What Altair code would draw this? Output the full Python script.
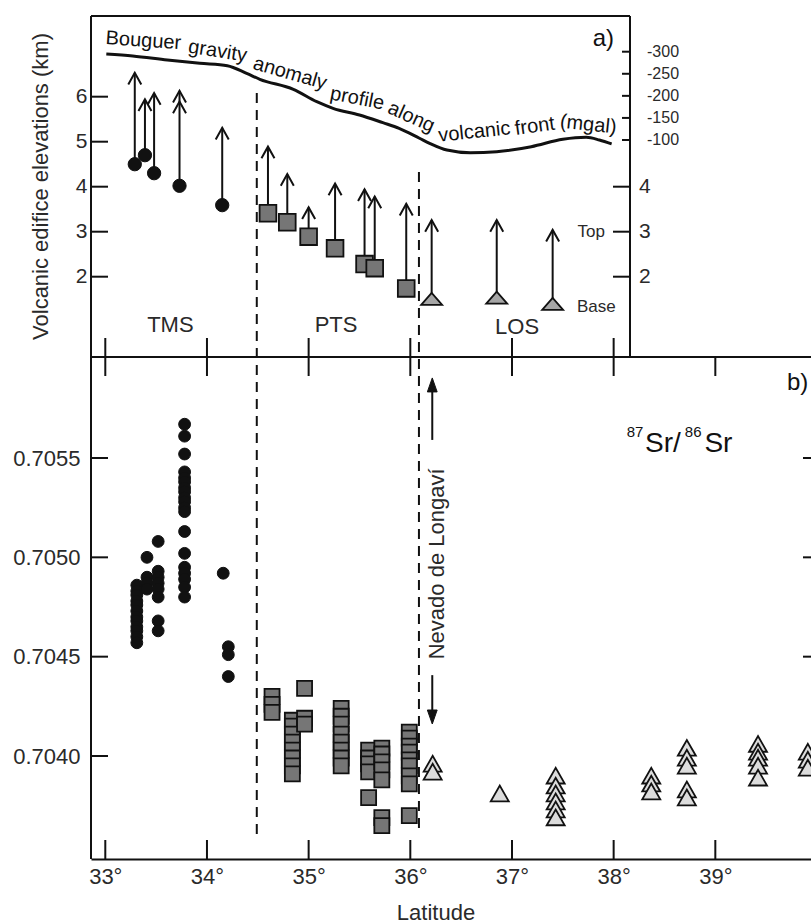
import altair as alt
import pandas as pd

FONT = "Liberation Sans"
INK = "#111111"
LABEL = "#2a2a2a"

# ---------------- panel a: volcanic edifice elevations (km) ----------------
tms_lat = [33.29, 33.39, 33.48, 33.73, 34.15]
tms_base = [4.50, 4.70, 4.30, 4.02, 3.59]
tms_top = [6.53, 5.94, 6.08, 6.13, 5.31]

pts_lat = [34.60, 34.79, 35.00, 35.26, 35.55, 35.65, 35.96]
pts_base = [3.41, 3.21, 2.89, 2.63, 2.28, 2.19, 1.74]
pts_top = [4.89, 4.28, 3.54, 4.07, 3.94, 3.78, 3.62]

los_lat = [36.21, 36.85, 37.40]
los_base = [1.50, 1.53, 1.39]
los_top = [3.26, 3.26, 3.04]

# second summit on the 33.7° edifice
extra_head_lat = [33.73]
extra_head_top = [5.89]

# Bouguer gravity anomaly profile along the volcanic front (mgal)
grav_lat = [33.01, 33.27, 33.61, 33.93, 34.20, 34.39, 34.52, 34.85, 35.08, 35.24,
            35.50, 35.73, 35.89, 36.09, 36.19, 36.36, 36.59, 36.85, 37.19, 37.50,
            37.73, 37.86, 37.98]
grav_mgal = [-294.8, -290.3, -281.2, -273.7, -268.3, -251.0, -237.5, -214.8, -186.7, -171.8,
             -156.6, -139.2, -126.5, -104.0, -92.5, -77.3, -71.2, -73.5, -84.8, -101.6,
             -106.1, -100.0, -91.0]

# profile caption, word by word along the curve
cap_words = ["Bouguer", "gravity", "anomaly", "profile", "along", "volcanic", "front", "(mgal)"]
cap_lat = [33.375, 34.105, 34.817, 35.478, 36.01, 36.63, 37.225, 37.75]
cap_mgal = [-325.0, -301.0, -251.0, -194.0, -152.0, -118.0, -131.0, -135.0]
cap_angle = [4, 9, 16, 11, 24, 354, 352, 6]

elev_ticks = [2, 3, 4, 5, 6]
elev_right_ticks = [4, 3, 2]
grav_ticks = [-300, -250, -200, -150, -100]
grav_tick_text = ["-300", "-250", "-200", "-150", "-100"]

# ---------------- panel b: 87Sr/86Sr ----------------
sr_tms = [
    (33.31, [0.70486, 0.70483, 0.70481, 0.70478, 0.70476, 0.70473, 0.70470, 0.70468,
             0.70465, 0.70463, 0.70460, 0.70457]),
    (33.41, [0.70500, 0.70490, 0.70487, 0.70484]),
    (33.52, [0.70508, 0.70493, 0.70490, 0.70487, 0.70484, 0.70480, 0.70468, 0.70463]),
    (33.78, [0.70567, 0.70561, 0.70552, 0.70543, 0.70540, 0.70538, 0.70535, 0.70533,
             0.70530, 0.70528, 0.70525, 0.70523, 0.70513, 0.70502, 0.70495, 0.70492,
             0.70489, 0.70485, 0.70480]),
    (34.16, [0.70492]),
    (34.21, [0.70455, 0.70451, 0.70440]),
]
sr_pts = [
    (34.64, [0.70430, 0.70426, 0.70422]),
    (34.84, [0.70418, 0.70415, 0.70411, 0.70407, 0.70403, 0.70399, 0.70395, 0.70391]),
    (34.96, [0.70434, 0.70419, 0.70416]),
    (35.32, [0.70424, 0.70420, 0.70416, 0.70411, 0.70407, 0.70403, 0.70399, 0.70395]),
    (35.59, [0.70403, 0.70399, 0.70396, 0.70392, 0.70379]),
    (35.72, [0.70404, 0.70401, 0.70397, 0.70393, 0.70388, 0.70369, 0.70365]),
    (35.99, [0.70412, 0.70409, 0.70405, 0.70402, 0.70398, 0.70395, 0.70390, 0.70386, 0.70370]),
]
sr_los = [
    (36.22, [0.70396, 0.70392]),
    (36.88, [0.70381]),
    (37.43, [0.70390, 0.70385, 0.70381, 0.70377, 0.70373, 0.70369]),
    (38.37, [0.70390, 0.70386, 0.70382]),
    (38.72, [0.70404, 0.70399, 0.70395, 0.70383, 0.70379]),
    (39.42, [0.70406, 0.70402, 0.70399, 0.70395, 0.70389]),
    (39.91, [0.70402, 0.70398, 0.70394]),
]
sr_ticks = [0.7040, 0.7045, 0.7050, 0.7055]
sr_right_ticks = [0.7045, 0.7050, 0.7055]
lat_ticks = [33, 34, 35, 36, 37, 38, 39]
lat_ticks_a = [33, 34, 35, 36, 37, 38]

# zone boundaries (latitude)
boundary_lat = [34.49, 36.085]

# ---------------- scales ----------------
W, H = 720, 843
xscale = alt.Scale(domain=[32.8594, 39.9411], nice=False, zero=False)
SCALES = {
    "elev": ([0.2156, 7.793], [341, 0]),
    "grav": ([-300, -100], [35.7, 124]),
    "sr": ([0.7040, 0.7055], [740, 442]),
}

x_axis = alt.Axis(values=lat_ticks, labelExpr="datum.value + '°'", ticks=False, grid=False,
                  domain=True, domainColor=INK, domainWidth=2,
                  labelFont=FONT, labelFontSize=22, labelColor=LABEL, labelPadding=7,
                  title="Latitude", titleFont=FONT, titleFontSize=22, titleFontWeight="normal",
                  titleColor=LABEL, titleX=344.5, titleY=60, titleAlign="center",
                  titleBaseline="alphabetic")


def X(field="lat"):
    return alt.X(f"{field}:Q", scale=xscale, axis=x_axis)


def Y(field, kind, axis=None):
    dom, rng = SCALES[kind]
    return alt.Y(f"{field}:Q", scale=alt.Scale(domain=dom, range=rng, nice=False, zero=False),
                 axis=axis)


def columns_df(cols):
    rows = [{"lat": la, "v": v} for la, vals in cols for v in vals]
    return pd.DataFrame(rows)


one = pd.DataFrame({"k": [0]})
layers = []


def hline(y, x0, x1, color=INK, w=2):
    return alt.Chart(one).mark_rule(color=color, strokeWidth=w).encode(
        y=alt.value(y), x=alt.value(x0), x2=alt.value(x1))


def vline(x, y0, y1, color=INK, w=2):
    return alt.Chart(one).mark_rule(color=color, strokeWidth=w).encode(
        x=alt.value(x), y=alt.value(y0), y2=alt.value(y1))


# frame lines
layers += [vline(0, 0, H), hline(0, 0, 539), vline(539, 0, 341), hline(341, 0, W)]

# latitude ticks (inward)
def lat_tick_layer(lats, y0, y1):
    return alt.Chart(pd.DataFrame({"lat": lats})).mark_rule(color=INK, strokeWidth=2).encode(
        x=X(), y=alt.value(y0), y2=alt.value(y1))

layers += [lat_tick_layer(lat_ticks, 824, H), lat_tick_layer(lat_ticks, 341, 360),
           lat_tick_layer(lat_ticks_a, 322, 341)]

# zone boundaries
for la, y0, y1 in [(boundary_lat[0], 77, 824), (boundary_lat[1], 156, 812)]:
    layers.append(alt.Chart(pd.DataFrame({"lat": [la]})).mark_rule(
        color=INK, strokeWidth=2, strokeDash=[10, 7]).encode(
        x=X(), y=alt.value(y0), y2=alt.value(y1)))

# value-axis ticks
def val_ticks(vals, kind, x0, x1):
    return alt.Chart(pd.DataFrame({"v": vals})).mark_rule(color=INK, strokeWidth=2).encode(
        y=Y("v", kind), x=alt.value(x0), x2=alt.value(x1))

layers += [val_ticks(elev_ticks, "elev", 0, 17), val_ticks(elev_right_ticks, "elev", 522, 539),
           val_ticks(grav_ticks, "grav", 531, 539), val_ticks(sr_ticks, "sr", 0, 17),
           val_ticks(sr_right_ticks, "sr", 712, 720)]

# value-axis labels on the right side of panel a
layers.append(alt.Chart(pd.DataFrame({"v": elev_right_ticks})).mark_text(
    font=FONT, fontSize=21, color=LABEL, align="left", baseline="middle").encode(
    y=Y("v", "elev"), x=alt.value(548), text="v:Q"))
layers.append(alt.Chart(pd.DataFrame({"v": grav_ticks, "t": grav_tick_text})).mark_text(
    font=FONT, fontSize=16, color=LABEL, align="left", baseline="middle").encode(
    y=Y("v", "grav"), x=alt.value(556), text="t:N"))
layers.append(alt.Chart(pd.DataFrame({"t": ["Top"], "v": [3.0]})).mark_text(
    font=FONT, fontSize=17, color=LABEL, align="right", baseline="middle").encode(
    y=Y("v", "elev"), x=alt.value(514), text="t:N"))
layers.append(alt.Chart(pd.DataFrame({"t": ["Base"], "v": [1.33]})).mark_text(
    font=FONT, fontSize=17, color=LABEL, align="left", baseline="middle").encode(
    y=Y("v", "elev"), x=alt.value(486), text="t:N"))

# Bouguer gravity profile and its caption
layers.append(alt.Chart(pd.DataFrame({"lat": grav_lat, "g": grav_mgal})).mark_line(
    color=INK, strokeWidth=3, interpolate="monotone").encode(x=X(), y=Y("g", "grav")))
layers.append(alt.Chart(pd.DataFrame({"t": cap_words, "lat": cap_lat, "g": cap_mgal,
                                      "a": cap_angle})).mark_text(
    font=FONT, fontSize=20, color=INK, align="center", baseline="middle").encode(
    x=X(), y=Y("g", "grav"), text="t:N", angle=alt.Angle("a:Q", scale=None)))

# edifice arrows (base -> top)
arrows = pd.DataFrame({"lat": tms_lat + pts_lat + los_lat,
                       "base": tms_base + pts_base + los_base,
                       "top": tms_top + pts_top + los_top})
layers.append(alt.Chart(arrows).mark_rule(color=INK, strokeWidth=2).encode(
    x=X(), y=Y("base", "elev"), y2="top:Q"))
heads = pd.DataFrame({"lat": tms_lat + pts_lat + los_lat + extra_head_lat,
                      "top": tms_top + pts_top + los_top + extra_head_top})
layers.append(alt.Chart(heads).mark_point(
    shape="M-1,1.8L0,0L1,1.8", size=169, filled=False, stroke=INK, strokeWidth=2,
    opacity=1).encode(x=X(), y=Y("top", "elev")))

# edifice bases
elev_axis = alt.Axis(orient="left", values=elev_ticks, ticks=False, domain=False, grid=False,
                     labelFont=FONT, labelFontSize=21, labelColor=LABEL, labelPadding=4,
                     title="Volcanic edifice elevations (km)", titleFont=FONT, titleFontSize=22,
                     titleFontWeight="normal", titleColor=LABEL, titleX=-51, titleY=170,
                     titleAngle=270, titleAlign="center", titleBaseline="middle")
layers.append(alt.Chart(pd.DataFrame({"lat": tms_lat, "v": tms_base})).mark_point(
    shape="circle", size=177, filled=True, fill=INK, stroke=INK, strokeWidth=1, opacity=1).encode(
    x=X(), y=Y("v", "elev", elev_axis)))
layers.append(alt.Chart(pd.DataFrame({"lat": pts_lat, "v": pts_base})).mark_point(
    shape="square", size=280, filled=True, fill="#767676", stroke=INK, strokeWidth=1.8,
    opacity=1).encode(x=X(), y=Y("v", "elev")))
layers.append(alt.Chart(pd.DataFrame({"lat": los_lat, "v": los_base})).mark_point(
    shape="M-1,0.55L1,0.55L0,-0.6Z", size=441, filled=True, fill="#a6a6a6", stroke=INK,
    strokeWidth=1.8, opacity=1).encode(x=X(), y=Y("v", "elev")))

# segment names
layers.append(alt.Chart(pd.DataFrame({"t": ["TMS", "PTS", "LOS"], "lat": [33.64, 35.27, 37.05],
                                      "v": [0.93, 0.93, 0.89]})).mark_text(
    font=FONT, fontSize=22, color=LABEL, align="center", baseline="middle").encode(
    x=X(), y=Y("v", "elev"), text="t:N"))

# panel letters
layers.append(alt.Chart(pd.DataFrame({"t": ["a)"]})).mark_text(
    font=FONT, fontSize=24, color=INK, align="right", baseline="middle").encode(
    x=alt.value(523), y=alt.value(23), text="t:N"))
layers.append(alt.Chart(pd.DataFrame({"t": ["b)"]})).mark_text(
    font=FONT, fontSize=24, color=INK, align="left", baseline="middle").encode(
    x=alt.value(696), y=alt.value(367), text="t:N"))

# 87Sr/86Sr heading
sr_title = pd.DataFrame({"t": ["87", "Sr/", "86", "Sr"],
                         "lat": [38.128, 38.308, 38.700, 38.893],
                         "v": [0.705607, 0.705532, 0.705607, 0.705532],
                         "fs": [15, 28, 15, 28]})
layers.append(alt.Chart(sr_title).mark_text(
    font=FONT, color=INK, align="left", baseline="alphabetic").encode(
    x=X(), y=Y("v", "sr"), text="t:N", size=alt.Size("fs:Q", scale=None, legend=None)))

# Nevado de Longaví marker
layers.append(alt.Chart(pd.DataFrame({"t": ["Nevado de Longaví"], "lat": [36.259],
                                      "v": [0.704967]})).mark_text(
    font=FONT, fontSize=22, color=LABEL, align="center", baseline="middle", angle=270).encode(
    x=X(), y=Y("v", "sr"), text="t:N"))
nl_arrows = pd.DataFrame({"lat": [36.216, 36.216], "a": [0.705591, 0.704407],
                          "b": [0.705880, 0.704185]})
layers.append(alt.Chart(nl_arrows).mark_rule(color=INK, strokeWidth=2).encode(
    x=X(), y=Y("a", "sr"), y2="b:Q"))
layers.append(alt.Chart(pd.DataFrame({"lat": [36.216], "v": [0.705903]})).mark_point(
    shape="M0,0L-0.7,2L0.7,2Z", size=196, filled=True, fill=INK, stroke=INK, strokeWidth=1,
    opacity=1).encode(x=X(), y=Y("v", "sr")))
layers.append(alt.Chart(pd.DataFrame({"lat": [36.216], "v": [0.704161]})).mark_point(
    shape="M0,0L-0.7,-2L0.7,-2Z", size=196, filled=True, fill=INK, stroke=INK, strokeWidth=1,
    opacity=1).encode(x=X(), y=Y("v", "sr")))

# isotope data
sr_axis = alt.Axis(orient="left", values=sr_ticks, format=".4f", ticks=False, domain=False,
                   grid=False, labelFont=FONT, labelFontSize=22, labelColor=LABEL,
                   labelPadding=11, title=None)
layers.append(alt.Chart(columns_df(sr_tms)).mark_point(
    shape="circle", size=140, filled=True, fill=INK, stroke=INK, strokeWidth=1, opacity=1).encode(
    x=X(), y=Y("v", "sr", sr_axis)))
layers.append(alt.Chart(columns_df(sr_pts)).mark_point(
    shape="square", size=225, filled=True, fill="#767676", stroke=INK, strokeWidth=1.8,
    opacity=1).encode(x=X(), y=Y("v", "sr")))
layers.append(alt.Chart(columns_df(sr_los)).mark_point(
    shape="M-1,0.85L1,0.85L0,-0.9Z", size=324, filled=True, fill="#dcdcdc", stroke=INK,
    strokeWidth=1.8, opacity=1).encode(x=X(), y=Y("v", "sr")))

chart = alt.layer(*layers).resolve_scale(y="independent").properties(
    width=W, height=H,
    autosize=alt.AutoSizeParams(type="none"),
    padding={"left": 91, "top": 16, "right": 0, "bottom": 65},
).configure(
    font=FONT,
    view={"stroke": None, "strokeWidth": 0},
    style={"cell": {"stroke": None, "strokeWidth": 0}},
)

chart.save("out.html", embed_options={"renderer": "svg", "actions": False})
